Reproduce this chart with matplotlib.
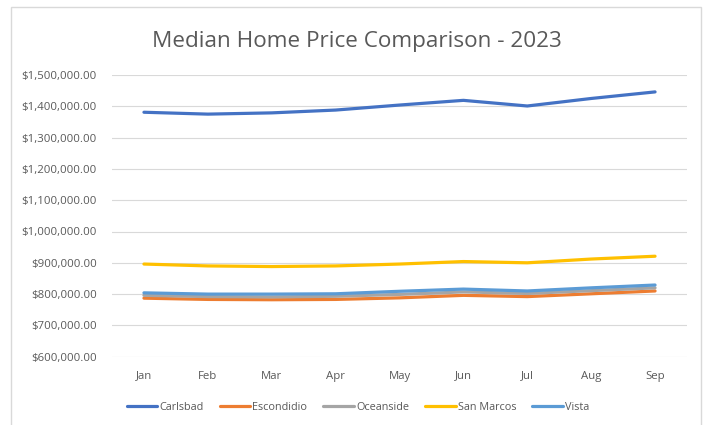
"""Median home price comparison, 2023 (line chart, Excel look)."""
import matplotlib
matplotlib.use("Agg")
import matplotlib.pyplot as plt
from matplotlib.patches import Rectangle
from matplotlib.ticker import FuncFormatter

months = ["Jan", "Feb", "Mar", "Apr", "May", "Jun", "Jul", "Aug", "Sep"]
carlsbad = [1381000, 1375000, 1379000, 1388000, 1404000, 1419000, 1401000, 1425000, 1446000]
escondidio = [787000, 783000, 782000, 783000, 788000, 796000, 792000, 801000, 810000]
oceanside = [796000, 792000, 791000, 793000, 799000, 807000, 802000, 811000, 820000]
san_marcos = [896000, 890000, 888000, 890000, 896000, 904000, 900000, 912000, 921000]
vista = [804000, 800000, 800000, 801000, 809000, 816000, 810000, 820000, 829000]

series = [
    ("Carlsbad", carlsbad, "#4472C4"),
    ("Escondidio", escondidio, "#ED7D31"),
    ("Oceanside", oceanside, "#A5A5A5"),
    ("San Marcos", san_marcos, "#FFC000"),
    ("Vista", vista, "#5B9BD5"),
]

plt.rcParams["font.family"] = ["Open Sans", "DejaVu Sans"]
text_color = "#595959"

fig = plt.figure(figsize=(7.06, 4.25), dpi=100)
ax = fig.add_axes([112 / 706, 1 - 356.7 / 425, 575 / 706, 281.7 / 425])

x = list(range(len(months)))
for name, vals, color in series:
    ax.plot(x, vals, color=color, lw=2.3, solid_capstyle="round",
            solid_joinstyle="round", label=name)

ax.set_xlim(-0.5, len(months) - 0.5)
ax.set_ylim(600000, 1500000)
ax.set_yticks(range(600000, 1500001, 100000))
ax.yaxis.set_major_formatter(FuncFormatter(lambda v, _: f"${v:,.2f}"))
ax.set_xticks(x)
ax.set_xticklabels(months)
ax.grid(axis="y", color="#D9D9D9", lw=0.8)
ax.set_axisbelow(True)
for sp in ax.spines.values():
    sp.set_visible(False)
ax.tick_params(axis="both", length=0, labelsize=8.2, colors=text_color)
ax.tick_params(axis="y", pad=11)
ax.tick_params(axis="x", pad=10)

fig.text(0.505, 1 - 41 / 425, "Median Home Price Comparison - 2023",
         ha="center", va="center", fontsize=16.2, color=text_color)

fig.legend(loc="center", bbox_to_anchor=(358 / 706, 1 - 407 / 425), ncol=5,
           frameon=False, fontsize=7.8, handlelength=2.8, handletextpad=0.2,
           columnspacing=1.5, labelcolor=text_color)

fig.patches.append(Rectangle((11 / 706, -0.1), 690 / 706, 1.1 - 7 / 425,
                             transform=fig.transFigure, fill=False,
                             edgecolor="#D9D9D9", lw=1))

fig.savefig("out.png", dpi=100)
